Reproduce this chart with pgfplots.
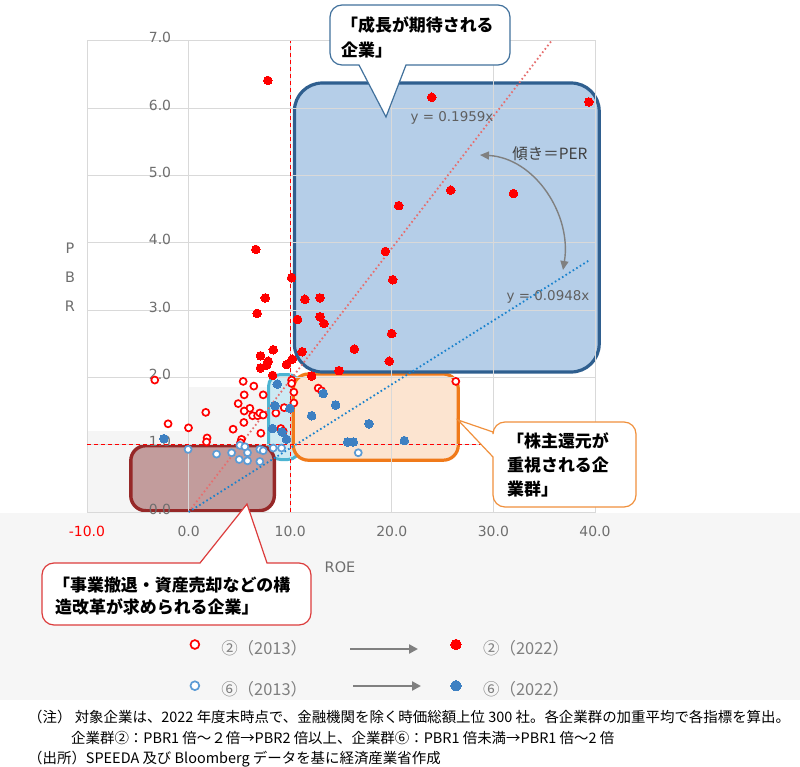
\documentclass[border=0pt]{standalone}
\usepackage{pgfplots}
\pgfplotsset{compat=1.18}
\usepackage{fontspec}
\setmainfont{DejaVu Sans}
\newfontfamily\jp{Noto Sans CJK JP}
\usetikzlibrary{arrows.meta}

\definecolor{gridgray}{HTML}{D9D9D9}
\definecolor{ticklab}{HTML}{6E6E6E}
\definecolor{bgband}{HTML}{F6F6F6}
\definecolor{faint}{HTML}{F5F5F5}
\definecolor{bluefill}{HTML}{B5CEE8}
\definecolor{blueedge}{HTML}{2F5F8F}
\definecolor{orgfill}{HTML}{FCE4D0}
\definecolor{orgedge}{HTML}{F07A1A}
\definecolor{cyanfill}{HTML}{CDEAF3}
\definecolor{cyanedge}{HTML}{4BB4D2}
\definecolor{rosefill}{HTML}{C29C9C}
\definecolor{roseedge}{HTML}{962828}
\definecolor{trendred}{HTML}{E66E6E}
\definecolor{trendblue}{HTML}{1982CD}
\definecolor{ptblue}{HTML}{3D80C2}
\definecolor{ringblue}{HTML}{5B9BD5}
\definecolor{calloutblue}{HTML}{41719C}
\definecolor{calloutorg}{HTML}{F0903C}
\definecolor{calloutred}{HTML}{DC3C3C}
\definecolor{annot}{HTML}{5F5F5F}
\definecolor{legtext}{HTML}{7F7F7F}

\begin{document}
\begin{tikzpicture}
\path[use as bounding box] (0,0) rectangle (800bp,-767bp);
\fill[white] (0,0) rectangle (800bp,-767bp);
\fill[bgband] (0,-513bp) rectangle (800bp,-700bp);

% zones behind the plot (grid, ticks and points are drawn over them)
\begin{scope}[x=1bp, y=-1bp]
    \fill[faint] (87,431.2) rectangle (188.6,512);
    \fill[faint] (188.6,387.4) rectangle (268.9,512);
    \draw[cyanedge, line width=3bp, fill=cyanfill, rounded corners=12bp]
        (268.5,374.5) rectangle (300,459.5);
    \draw[orgedge, line width=3.2bp, fill=orgfill, rounded corners=15bp]
        (293.3,374) rectangle (458.3,460.2);
    \draw[blueedge, line width=3.2bp, fill=bluefill, rounded corners=28bp]
        (294.4,83) rectangle (599.2,372);
    \draw[roseedge, line width=3.4bp, fill=rosefill, rounded corners=15bp]
        (130.8,445.7) rectangle (274.3,510.7);
\end{scope}

\begin{axis}[
    at={(87bp,-512bp)}, anchor=south west,
    scale only axis, width=508bp, height=471.3bp,
    xmin=-10, xmax=40, ymin=0, ymax=7,
    xtick={-10,0,10,20,30,40},
    xticklabels={\textcolor{red}{-10.0},0.0,10.0,20.0,30.0,40.0},
    ytick={0,1,2,3,4,5,6,7},
    yticklabels={0.0,1.0,2.0,3.0,4.0,5.0,6.0,7.0},
    major tick length=0pt,
    grid=major,
    grid style={draw=gridgray, line width=0.8bp},
    axis line style={draw=gridgray, line width=0.8bp},
    tick label style={font=\fontsize{14}{16}\selectfont, text=ticklab},
    xticklabel style={anchor=center, yshift=-19bp},
    yticklabel style={anchor=center, xshift=73bp, yshift=3bp},
    xlabel={ROE}, ylabel={P\\B\\R},
    xlabel style={at={(axis description cs:0.498,-0.1167)}, anchor=center,
        font=\fontsize{14.5}{16}\selectfont, text=ticklab},
    ylabel style={at={(axis description cs:-0.0335,0.4986)}, anchor=center,
        rotate=-90, align=center, font=\fontsize{14.5}{29}\selectfont, text=ticklab},
    clip=false,
    legend columns=2,
    legend cell align=left,
    legend style={at={(axis description cs:0.2037,-0.2701)}, anchor=north west,
        draw=none, fill=none, inner sep=0pt, outer sep=0pt,
        /tikz/column sep=22bp, /tikz/row sep=22bp,
        nodes={inner sep=0pt, text height=12bp, text depth=4bp},
        font=\jp\fontsize{16.5}{18}\selectfont, text=legtext},
    lgopen/.style={legend image code/.code={
        \draw[mark repeat=2,mark phase=2,##1,mark size=4.4bp] plot coordinates {(0cm,6bp) (0.3cm,6bp) (0.6cm,6bp)};}},
    lgfull/.style={legend image code/.code={
        \draw[mark repeat=2,mark phase=2,##1,mark size=5.2bp] plot coordinates {(0cm,6bp) (0.3cm,6bp) (0.6cm,6bp)};}},
]
    % trend lines y = 0.1959x and y = 0.0948x
    \addplot[trendred, line width=1.8bp, dash pattern=on 1.6bp off 2.6bp, forget plot]
        coordinates {(0,0) (35.73,7)};
    \addplot[trendblue, line width=1.8bp, dash pattern=on 1.6bp off 2.6bp, forget plot]
        coordinates {(0,0) (39.5,3.745)};

    % group 2, 2013
    \addplot[only marks, lgopen, mark=*, mark size=3.5bp,
        mark options={draw=red, fill=white, line width=1.7bp}] coordinates {
        (-3.33,1.96) (5.37,1.94) (6.42,1.87) (5.47,1.74) (7.34,1.74)
        (4.88,1.61) (6.03,1.54) (5.47,1.50) (6.30,1.43) (6.79,1.43)
        (7.01,1.47) (7.34,1.44) (5.44,1.33) (1.69,1.48) (-2.02,1.31)
        (-0.01,1.25) (1.82,1.10) (1.76,1.04) (4.38,1.23) (7.11,1.17)
        (5.21,1.08) (5.11,1.03) (8.59,1.47) (9.41,1.55) (9.08,1.24)
        (9.31,1.20) (10.14,1.96) (10.14,1.91) (10.36,1.78) (10.36,1.62)
        (12.76,1.84) (13.09,1.80) (26.30,1.94)
    };
    % group 2, 2022
    \addplot[only marks, lgfull, mark=*, mark size=4.3bp,
        mark options={draw=red, fill=red, line width=0pt}] coordinates {
        (7.80,6.41) (23.93,6.16) (39.40,6.09) (25.80,4.78) (31.97,4.73)
        (20.68,4.55) (19.36,3.87) (6.62,3.90) (20.09,3.45) (10.14,3.48)
        (7.54,3.18) (11.45,3.16) (12.93,3.18) (6.75,2.95) (10.73,2.86)
        (12.93,2.90) (13.32,2.80) (19.99,2.65) (16.31,2.42) (11.18,2.38)
        (8.33,2.41) (19.75,2.24) (7.08,2.32) (7.83,2.24) (7.67,2.18)
        (7.08,2.14) (9.65,2.19) (10.20,2.27) (8.27,2.03) (14.80,2.10)
        (12.11,2.02)
    };
    % group 6, 2013
    \addplot[only marks, lgopen, mark=*, mark size=3.5bp,
        mark options={draw=ringblue, fill=white, line width=1.7bp}] coordinates {
        (-0.05,0.93) (2.75,0.86) (4.23,0.88) (5.05,0.99) (5.54,0.97)
        (5.80,0.88) (4.98,0.78) (5.80,0.76) (7.01,0.93) (7.34,0.91)
        (7.01,0.75) (8.33,0.95) (9.15,0.95) (16.70,0.88)
    };
    % group 6, 2022
    \addplot[only marks, lgfull, mark=*, mark size=4.3bp,
        mark options={draw=ptblue, fill=ptblue, line width=0pt}] coordinates {
        (-2.44,1.09) (8.72,1.90) (8.49,1.58) (9.97,1.54) (8.26,1.24)
        (9.18,1.19) (9.64,1.08) (13.25,1.76) (14.47,1.59) (12.11,1.43)
        (17.75,1.31) (15.65,1.04) (16.21,1.04) (21.23,1.06)
    };

    % PBR = 1 and ROE = 10 reference lines
    \addplot[red, line width=1bp, dash pattern=on 4bp off 3bp, forget plot]
        coordinates {(-10,1) (40,1)};
    \addplot[red, line width=1bp, dash pattern=on 4bp off 3bp, forget plot]
        coordinates {(10,0) (10,7)};

    \legend{\makebox[207.5bp][l]{②（2013）}, ②（2022）,
            \makebox[207.5bp][l]{⑥（2013）}, ⑥（2022）}
\end{axis}

\begin{scope}[x=1bp, y=-1bp]
    % trend line labels and the PER arrow
    \node[text=annot, font=\fontsize{13.5}{15}\selectfont] at (452,118) {y = 0.1959x};
    \node[text=annot, font=\fontsize{13.5}{15}\selectfont] at (548,297) {y = 0.0948x};
    \node[text=black!75, font=\jp\fontsize{15.5}{17}\selectfont] at (550,154) {傾き＝PER};
    \draw[gray, line width=1.4bp, {Triangle[length=9bp,width=8bp]}-{Triangle[length=9bp,width=8bp]}]
        (480,155) .. controls (535,158) and (572,215) .. (563,270);

    % callouts
    \draw[calloutblue, line width=1.2bp, fill=white]
        (386,117) -- (406,65) [rounded corners=12bp] -- (510,65) -- (510,5)
        -- (330,5) -- (330,65) [sharp corners] -- (359,65) -- cycle;
    \begin{scope}[font=\jp\bfseries\fontsize{17}{25}\selectfont]
        \node[anchor=base west, inner sep=0] at (341,31.5) {「成長が期待される};
        \node[anchor=base west, inner sep=0] at (341,56.5) {企業」};
    \end{scope}

    \draw[calloutorg, line width=1.2bp, fill=white]
        (458,420) -- (493,457) [rounded corners=12bp] -- (493,507) -- (636,507)
        -- (636,422) -- (493,422) [sharp corners] -- (493,432) -- cycle;
    \begin{scope}[font=\jp\bfseries\fontsize{17}{25}\selectfont]
        \node[anchor=base west, inner sep=0] at (507,447.5) {「株主還元が};
        \node[anchor=base west, inner sep=0] at (507,471.5) {重視される企};
        \node[anchor=base west, inner sep=0] at (507,495.5) {業群」};
    \end{scope}

    \draw[calloutred, line width=1.2bp, fill=white]
        (247,504) -- (267,563) [rounded corners=12bp] -- (311,563) -- (311,625)
        -- (42,625) -- (42,563) [sharp corners] -- (200,563) -- cycle;
    \begin{scope}[font=\jp\bfseries\fontsize{17}{25}\selectfont]
        \node[anchor=base west, inner sep=0] at (53,591.5) {「事業撤退・資産売却などの構};
        \node[anchor=base west, inner sep=0] at (55,613.5) {造改革が求められる企業」};
    \end{scope}

    % legend arrows
    \draw[gray, line width=2.4bp, -{Triangle[length=9bp,width=9bp]}] (350,649) -- (418,649);
    \draw[gray, line width=2.4bp, -{Triangle[length=9bp,width=9bp]}] (353,686) -- (421,686);

    % notes
    \begin{scope}[font=\jp\fontsize{14.5}{16}\selectfont]
        \node[anchor=base west, inner sep=0] at (28,722.3)
            {（注） 対象企業は、2022 年度末時点で、金融機関を除く時価総額上位 300 社。各企業群の加重平均で各指標を算出。};
        \node[anchor=base west, inner sep=0] at (71,743.3)
            {企業群②：PBR1 倍～２倍→PBR2 倍以上、企業群⑥：PBR1 倍未満→PBR1 倍～2 倍};
        \node[anchor=base west, inner sep=0] at (28,763.3)
            {（出所）SPEEDA 及び Bloomberg データを基に経済産業省作成};
    \end{scope}
\end{scope}
\end{tikzpicture}
\end{document}
